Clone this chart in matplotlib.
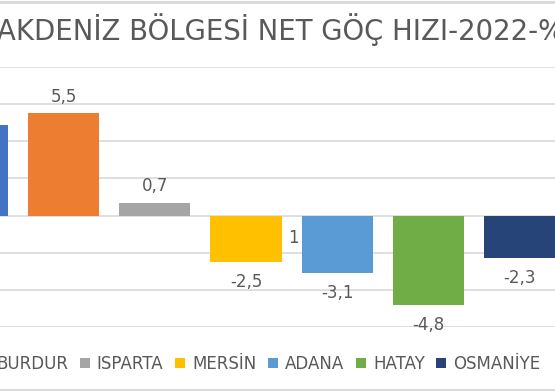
import matplotlib.pyplot as plt
from matplotlib.patches import Patch
from matplotlib.lines import Line2D

plt.rcParams['font.family'] = ['DejaVu Sans']

# Data
iller = ['ANTALYA', 'BURDUR', 'ISPARTA', 'MERSİN', 'ADANA', 'HATAY', 'OSMANİYE']
goc_hizi = [4.9, 5.5, 0.7, -2.5, -3.1, -4.8, -2.3]
etiketler = ['4,9', '5,5', '0,7', '-2,5', '-3,1', '-4,8', '-2,3']
renkler = ['#4472C4', '#ED7D31', '#A5A5A5', '#FFC000', '#5B9BD5', '#70AD47', '#264478']
yticks = [-6, -4, -2, 0, 2, 4, 6, 8]

W, H = 555, 391
fig = plt.figure(figsize=(W / 100, H / 100), dpi=100)

# plot area is wider than the picture (the reference is a crop)
left_px, right_px = -73.5, 565.6
top_px, bottom_px = 67, 327
ax = fig.add_axes([left_px / W, (H - bottom_px) / H,
                   (right_px - left_px) / W, (bottom_px - top_px) / H])

x = range(len(iller))
bars = ax.bar(x, goc_hizi, width=0.78, color=renkler, zorder=3)
ax.set_xlim(-0.5, len(iller) - 0.5)
ax.set_ylim(-6, 8)
ax.set_yticks(yticks)
ax.grid(axis='y', color='#D9D9D9', linewidth=1.2, zorder=0)
ax.tick_params(left=False, bottom=False, labelleft=False, labelbottom=False)
for s in ax.spines.values():
    s.set_visible(False)

for xi, v, lab in zip(x, goc_hizi, etiketler):
    off = 12 if v > 0 else -14.5
    ax.annotate(lab, (xi, v), xytext=(0, off), textcoords='offset points',
                ha='center', va='center', fontsize=12, color='#595959')

# stray label next to the MERSİN bar
ax.annotate('1', (3, -1.2), xytext=(34, 0), textcoords='offset points',
            ha='center', va='center', fontsize=12, color='#595959')

fig.text(-3 / W, 1 - 30 / H, 'AKDENİZ BÖLGESİ NET GÖÇ HIZI-2022-%',
         ha='left', va='center', fontsize=19.8, color='#595959')

handles = [Patch(facecolor=c, label=n) for n, c in zip(iller, renkler)]
fig.legend(handles=handles, ncol=len(iller), loc='center left',
           bbox_to_anchor=(-136 / W, 1 - 364 / H), frameon=False,
           fontsize=12, labelcolor='#595959', handlelength=0.6,
           handleheight=0.6, handletextpad=0.42, columnspacing=0.7,
           borderpad=0.4)

# chart border (top and bottom only visible in the crop)
fig.add_artist(Line2D([0, 1], [1 - 1.5 / H, 1 - 1.5 / H], color='#D9D9D9', lw=2))
fig.add_artist(Line2D([0, 1], [1.5 / H, 1.5 / H], color='#D9D9D9', lw=2))

fig.savefig('out.png', dpi=100)
